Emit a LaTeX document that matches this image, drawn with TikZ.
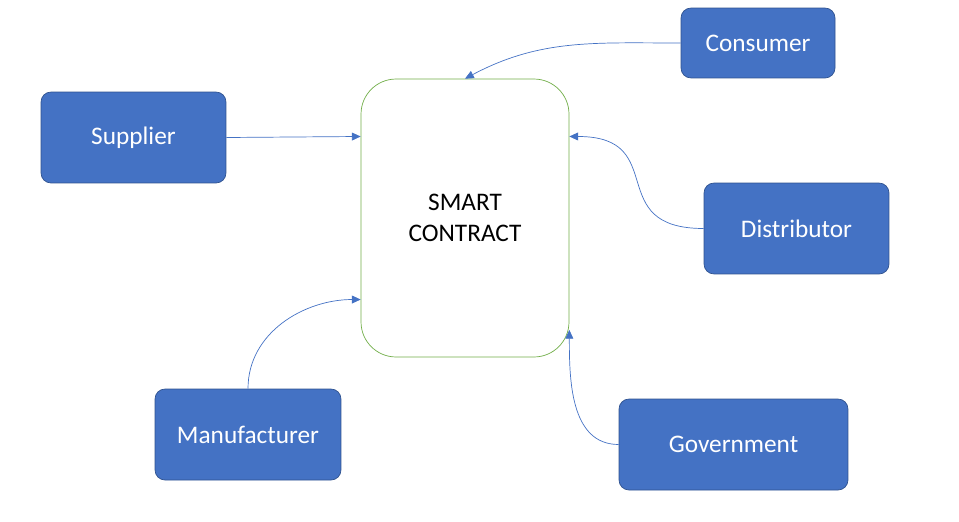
\documentclass[tikz,border=0pt]{standalone}
\usepackage{fontspec}
\setmainfont{Carlito}
\usepackage{xcolor}
\usepackage{tikz}
\usetikzlibrary{arrows.meta}

\definecolor{boxblue}{HTML}{4472C4}
\definecolor{boxedge}{HTML}{2F528F}
\definecolor{linkblue}{HTML}{4472C4}
\definecolor{contractgreen}{HTML}{70AD47}

\begin{document}
\begin{tikzpicture}[
        x=0.02cm, y=-0.02cm,
        font=\fontsize{14.4}{17.5}\selectfont,
        party/.style={draw=boxedge, fill=boxblue, text=white, rounded corners=0.2cm,
            inner sep=0pt, minimum height=1.82cm},
        contract/.style={draw=contractgreen, thin, rounded corners=0.7cm, inner sep=0pt,
            minimum width=4.16cm, minimum height=5.56cm, align=center},
        link/.style={draw=linkblue, thin, -{Triangle[length=5pt,width=4.5pt]}}
    ]
        \useasboundingbox (0,0) rectangle (959,521);

        % the contract in the middle
        \node[contract] (sc) at (465,218) {SMART\\CONTRACT};

        % parties round it
        \node[party, minimum width=3.08cm, minimum height=1.4cm] (consumer) at (758,43) {Consumer};
        \node[party, minimum width=3.7cm] (supplier) at (133.5,137.5) {Supplier};
        \node[party, minimum width=3.7cm] (distributor) at (796.5,228.5) {Distributor};
        \node[party, minimum width=3.72cm] (manufacturer) at (248,434.5) {Manufacturer};
        \node[party, minimum width=4.58cm] (government) at (733.5,444.5) {Government};

        \draw[link] (consumer.west) to[out=180, in=28] (sc.north);
        \draw[link] (supplier.east) -- (sc.142);
        \draw[link] (distributor.west) to[out=180, in=0, looseness=1.6] (sc.38);
        \draw[link] (manufacturer.north) to[out=90, in=180] (sc.218);
        \draw[link] (government.west) to[out=180, in=270] (sc.313);
    \end{tikzpicture}
\end{document}
